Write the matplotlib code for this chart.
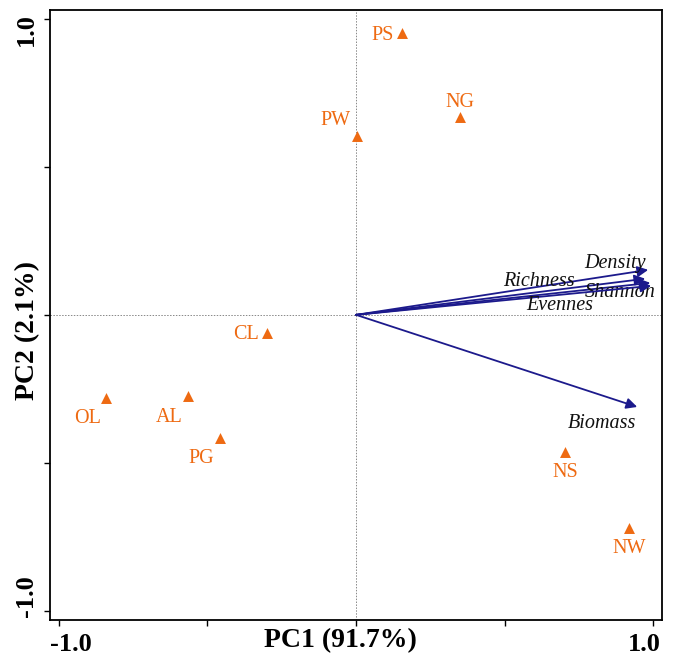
import numpy as np
import matplotlib
matplotlib.use("Agg")
import matplotlib.pyplot as plt

# sites (scores)
sites = ['PS', 'NG', 'PW', 'CL', 'OL', 'AL', 'PG', 'NS', 'NW']
pc1 = [0.155, 0.351, 0.003, -0.301, -0.841, -0.564, -0.459, 0.703, 0.919]
pc2 = [0.951, 0.669, 0.605, -0.061, -0.280, -0.274, -0.416, -0.463, -0.720]
# label offsets in pixels (dx, dy)
site_off = [(-20, -2), (0, 14), (-21, 15), (-21, -2), (-19, -21), (-19, -22), (-18, -20), (0, -21), (0, -20)]

# variables (loadings)
variables = ['Density', 'Richness', 'Shannon', 'Evennes', 'Biomass']
load1 = [0.983, 0.973, 0.990, 0.993, 0.946]
load2 = [0.152, 0.122, 0.108, 0.098, -0.311]
var_off = [(-33, 6), (-106, -3), (-30, -10), (-91, -20), (-35, -17)]

orange = '#EE6A12'
navy = '#1C1A8C'

plt.rcParams['font.family'] = ['Liberation Serif', 'DejaVu Serif']

fig = plt.figure(figsize=(6.75, 6.58), dpi=100)
ax = fig.add_axes([0.074, 0.058, 0.907, 0.927])

ax.axhline(0, color='#888888', lw=0.7, ls=(0, (1.5, 1.5)), zorder=1)
ax.axvline(0, color='#888888', lw=0.7, ls=(0, (1.5, 1.5)), zorder=1)

for name, x, y, (dx, dy) in zip(variables, load1, load2, var_off):
    ax.annotate('', xy=(x, y), xytext=(0, 0),
                arrowprops=dict(arrowstyle='-|>', color=navy, lw=1.3, mutation_scale=16,
                                shrinkA=0, shrinkB=0))
    ax.annotate(name, xy=(x, y), xytext=(dx, dy), textcoords='offset pixels',
                ha='center', va='center', style='italic', fontsize=14.5, color='#111111')

ax.scatter(pc1, pc2, marker='^', s=62, color=orange, zorder=3, linewidths=0)
for name, x, y, (dx, dy) in zip(sites, pc1, pc2, site_off):
    ax.annotate(name, xy=(x, y), xytext=(dx, dy), textcoords='offset pixels',
                ha='center', va='center', fontsize=14.5, color=orange)

ax.set_xlim(-1.03, 1.03)
ax.set_ylim(-1.03, 1.03)
ax.set_xticks([-1.0, -0.5, 0, 0.5, 1.0])
ax.set_yticks([-1.0, -0.5, 0, 0.5, 1.0])
ax.set_xticklabels([])
ax.set_yticklabels([])
ax.tick_params(direction='out', length=4, width=1)
for s in ax.spines.values():
    s.set_linewidth(1.3)

# end labels sit flush with the frame corners
tick_kw = dict(fontsize=19, fontweight='bold')
ax.text(0.0, -0.04, '-1.0', transform=ax.transAxes, ha='left', va='center', **tick_kw)
ax.text(0.997, -0.04, '1.0', transform=ax.transAxes, ha='right', va='center', **tick_kw)
ax.text(-0.039, 0.005, '-1.0', transform=ax.transAxes, ha='center', va='bottom', rotation=90, **tick_kw)
ax.text(-0.039, 0.995, '1.0', transform=ax.transAxes, ha='center', va='top', rotation=90, **tick_kw)

fig.text(340 / 675, 1 - 641 / 658, 'PC1 (91.7%)', ha='center', va='center', fontsize=20, fontweight='bold')
fig.text(28 / 675, 1 - 330 / 658, 'PC2 (2.1%)', ha='center', va='center', rotation=90,
         fontsize=20, fontweight='bold')

fig.savefig('out.png', dpi=100)
